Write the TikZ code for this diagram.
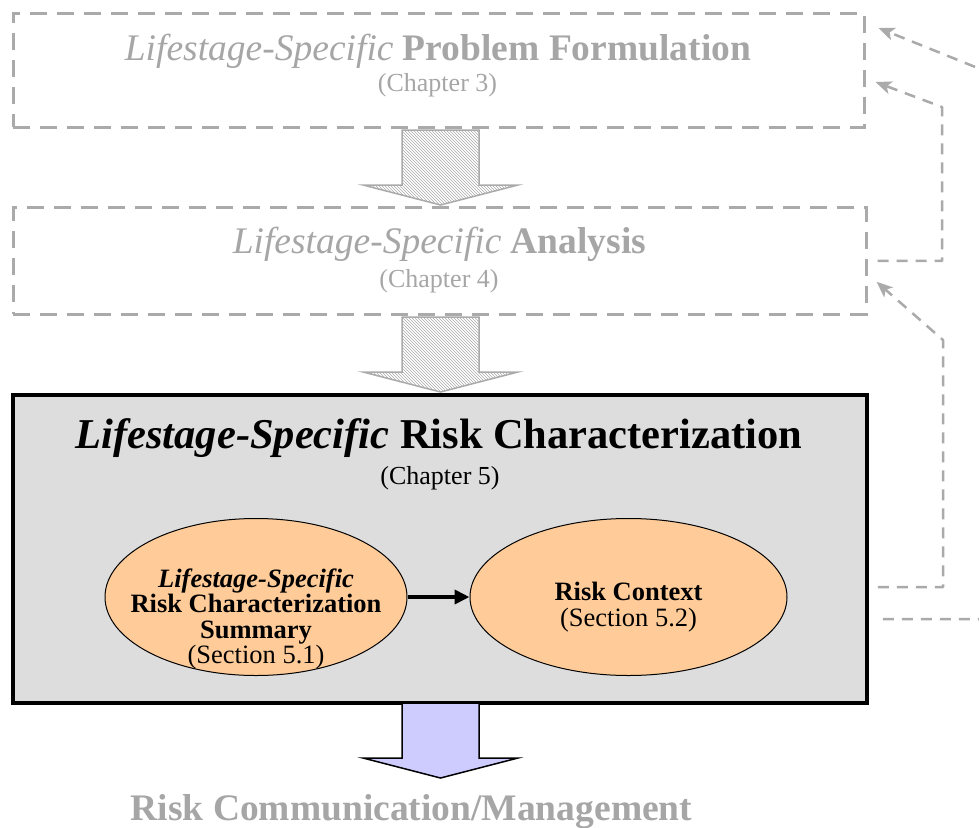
\documentclass[tikz,border=0pt]{standalone}
\usepackage{fontspec}
\setmainfont{Liberation Serif}
\usetikzlibrary{arrows.meta,patterns,shapes.geometric}

\definecolor{fadegray}{RGB}{170,170,170}
\definecolor{fadetext}{RGB}{166,166,166}
\definecolor{boxfill}{RGB}{221,221,221}
\definecolor{peach}{RGB}{255,204,153}
\definecolor{lavender}{RGB}{206,204,255}

\tikzset{
  fadebox/.style={draw=fadegray, line width=3pt, dash pattern=on 17pt off 10pt, inner sep=0pt},
  mainbox/.style={draw=black, line width=3.5pt, fill=boxfill, inner sep=0pt},
  fadetitle/.style={text=fadetext, font=\fontsize{37.5}{40}\selectfont\bfseries, inner sep=0pt},
  maintitle/.style={font=\fontsize{42.5}{45}\selectfont\bfseries, inner sep=0pt},
  chapter/.style={font=\fontsize{26}{28}\selectfont, inner sep=0pt},
  part/.style={ellipse, draw=black, line width=1pt, fill=peach, inner sep=0pt},
  parttext/.style={align=center, font=\fontsize{26.5}{25.5}\selectfont, inner sep=0pt},
  flow/.style={line width=4pt, -{Triangle[length=15pt,width=14pt]}},
  feedback/.style={draw=fadegray, line width=2.5pt, line join=round, dash pattern=on 11pt off 8pt,
    -{Stealth[length=16pt,width=13pt,inset=4pt]}},
  pics/downarrow/.style={code={
    \path[pic actions] (-38.5,0) -- (38.5,0) -- (38.5,55) -- (77.5,55) -- (0,75)
      -- (-77.5,55) -- (-38.5,55) -- cycle;
  }}
}

\begin{document}
\begin{tikzpicture}[x=1pt,y=-1pt]
  \useasboundingbox (0,0) rectangle (979,827);
  \clip (0,0) rectangle (979,827);

  % 'problem formulation'
  \node[fadebox, minimum width=851, minimum height=114] (pf) at (438.5,70) {};
  \node[fadetitle, anchor=base] (pftitle) at (438,60)
    {{\mdseries\itshape Lifestage-Specific} Problem Formulation};
  \node[chapter, text=fadetext, anchor=base] (pfchap) at (437.5,91) {(Chapter 3)};

  \pic[draw=fadegray, line width=1.5pt, pattern=north west lines, pattern color=fadegray]
    (pfarrow) at (440.5,130) {downarrow};

  % 'analysis'
  \node[fadebox, minimum width=853, minimum height=106.5] (an) at (439.5,260.75) {};
  \node[fadetitle, anchor=base] (antitle) at (439.5,253)
    {{\mdseries\itshape Lifestage-Specific} Analysis};
  \node[chapter, text=fadetext, anchor=base] (anchap) at (439,287) {(Chapter 4)};

  \pic[draw=fadegray, line width=1.5pt, pattern=north west lines, pattern color=fadegray]
    (anarrow) at (440.5,317) {downarrow};

  % 'risk characterization'
  \node[mainbox, minimum width=854, minimum height=308] (rc) at (440,549) {};
  \node[maintitle, anchor=base] (rctitle) at (439,448)
    {{\itshape Lifestage-Specific} Risk Characterization};
  \node[chapter, anchor=base] (rcchap) at (440,484) {(Chapter 5)};

  % 'summary' and 'context'
  \node[part, minimum width=302, minimum height=157] (sum) at (256,597) {};
  \node[parttext] (sumtext) at (256,619)
    {\textbf{\textit{Lifestage-Specific}}\\ \textbf{Risk Characterization}\\ \textbf{Summary}\\ (Section 5.1)};

  \node[part, minimum width=317, minimum height=157] (ctx) at (628.5,597) {};
  \node[parttext] (ctxtext) at (628.5,607) {\textbf{Risk Context}\\ (Section 5.2)};

  \draw[flow] (sum) -- (ctx);

  % 'output'
  \pic[draw=black, line width=1.5pt, fill=lavender] (rcarrow) at (440.5,703) {downarrow};
  \node[fadetitle, anchor=base] (rcm) at (411.5,820) {Risk Communication/Management};

  % feedback loops
  \draw[feedback] ([xshift=14pt,yshift=-70pt]rc.east) -- (1010,619) -- (1010,81)
    -- ([xshift=13pt,yshift=42pt]pf.east);
  \draw[feedback] ([xshift=10pt]an.east) -- (942,260.75) -- (942,107)
    -- ([xshift=10pt,yshift=-12pt]pf.east);
  \draw[feedback] ([xshift=9pt,yshift=-38pt]rc.east) -- (943,587) -- (943,340)
    -- ([xshift=9pt,yshift=-21pt]an.east);
\end{tikzpicture}
\end{document}
